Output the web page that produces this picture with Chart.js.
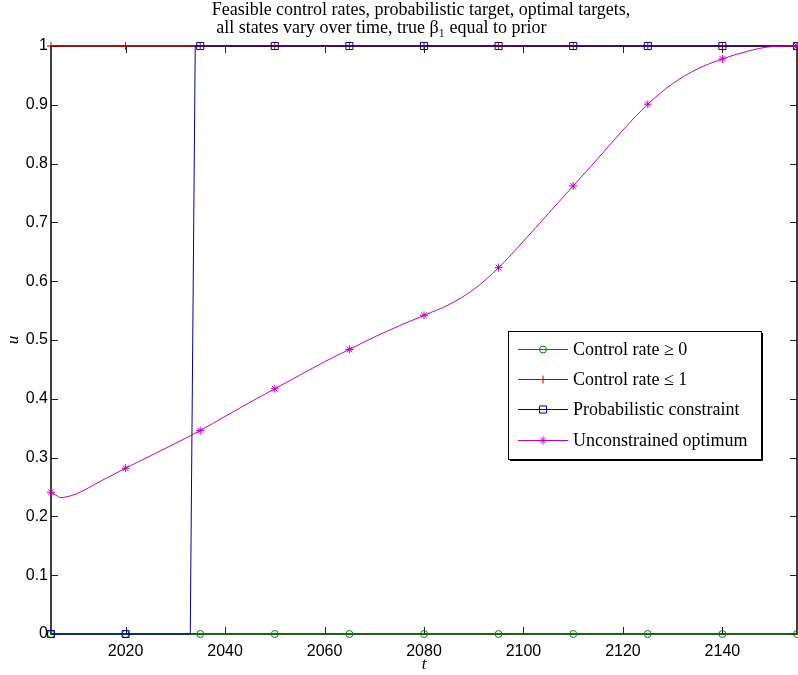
<!DOCTYPE html>
<html>
<head>
<meta charset="utf-8">
<script src="https://cdn.jsdelivr.net/npm/chart.js@4.4.1/dist/chart.umd.min.js"></script>
<style>
  html, body { margin: 0; padding: 0; background: #fff; }
</style>
</head>
<body>
<canvas id="grafico" width="798" height="675"></canvas>
<script>
// Testi e tacche
const titleLines = [
  'Feasible control rates, probabilistic target, optimal targets,',
  ' all states vary over time, true \u03B2\u2081 equal to prior'
];
const xTicks = [2020, 2040, 2060, 2080, 2100, 2120, 2140];
const yTicks = [0, 0.1, 0.2, 0.3, 0.4, 0.5, 0.6, 0.7, 0.8, 0.9, 1];
const markerYears = [2005, 2020, 2035, 2050, 2065, 2080, 2095, 2110, 2125, 2140, 2155];

// Serie: vincolo inferiore (0) e superiore (1)
const boundYears = [2005, 2020, 2035, 2050, 2065, 2080, 2095, 2110, 2125, 2140, 2155];
const lowerValues = [0, 0, 0, 0, 0, 0, 0, 0, 0, 0, 0];
const upperValues = [1, 1, 1, 1, 1, 1, 1, 1, 1, 1, 1];

// Serie: vincolo probabilistico
const probYears = [2005, 2020, 2033, 2034, 2035, 2050, 2065, 2080, 2095, 2110, 2125, 2140, 2155];
const probValues = [0, 0, 0, 1, 1, 1, 1, 1, 1, 1, 1, 1, 1];

// Serie: ottimo non vincolato
const optYears = [2005, 2006, 2007, 2008, 2010, 2015, 2020, 2025, 2030, 2035, 2040, 2045, 2050,
  2055, 2060, 2065, 2070, 2075, 2080, 2085, 2090, 2095, 2100, 2105, 2110, 2115, 2120, 2125,
  2130, 2135, 2140, 2145, 2150, 2155];
const optValues = [0.241, 0.236, 0.232, 0.233, 0.238, 0.260, 0.282, 0.303, 0.324, 0.346, 0.370, 0.394, 0.417,
  0.440, 0.463, 0.484, 0.505, 0.524, 0.542, 0.560, 0.586, 0.623, 0.668, 0.715, 0.762, 0.809, 0.857, 0.901,
  0.936, 0.961, 0.978, 0.991, 0.999, 1.0];

const GREEN = '#008000';
const RED = '#cc0000';
const BLUE = '#00009c';
const MAGENTA = '#bf00bf';

function toPoints(xs, ys) {
  return xs.map((x, i) => ({ x: x, y: ys[i] }));
}

function markerSize(r) {
  return ctx => (ctx.raw && markerYears.includes(ctx.raw.x)) ? r : 0;
}

// Disegna un marcatore (usato nella legenda)
function drawMarker(ctx, style, x, y, r, color) {
  ctx.save();
  ctx.strokeStyle = color;
  ctx.lineWidth = 1;
  ctx.beginPath();
  if (style === 'circle') {
    ctx.arc(x, y, r, 0, Math.PI * 2);
  } else if (style === 'rect') {
    const s = r / Math.SQRT2;
    ctx.rect(x - s, y - s, 2 * s, 2 * s);
  } else if (style === 'cross') {
    ctx.moveTo(x, y - r); ctx.lineTo(x, y + r);
    ctx.moveTo(x - r, y); ctx.lineTo(x + r, y);
  } else if (style === 'star') {
    ctx.moveTo(x, y - r); ctx.lineTo(x, y + r);
    ctx.moveTo(x - r, y); ctx.lineTo(x + r, y);
    const d = r * Math.SQRT1_2;
    ctx.moveTo(x - d, y - d); ctx.lineTo(x + d, y + d);
    ctx.moveTo(x - d, y + d); ctx.lineTo(x + d, y - d);
  }
  ctx.stroke();
  ctx.restore();
}

// Cornice con tacche verso l'interno (stile MATLAB)
const cornice = {
  id: 'cornice',
  beforeDatasetsDraw(chart) {
    const { ctx, chartArea: a, scales: { x, y } } = chart;
    ctx.save();
    ctx.strokeStyle = '#222';
    ctx.lineWidth = 1;
    ctx.beginPath();
    xTicks.forEach(v => {
      const px = Math.round(x.getPixelForValue(v)) + 0.5;
      ctx.moveTo(px, a.bottom); ctx.lineTo(px, a.bottom - 7);
      ctx.moveTo(px, a.top); ctx.lineTo(px, a.top + 7);
    });
    yTicks.forEach(v => {
      const py = Math.round(y.getPixelForValue(v)) + 0.5;
      ctx.moveTo(a.left, py); ctx.lineTo(a.left + 7, py);
      ctx.moveTo(a.right, py); ctx.lineTo(a.right - 7, py);
    });
    ctx.stroke();
    ctx.strokeStyle = '#000';
    ctx.lineWidth = 1.5;
    ctx.strokeRect(a.left, a.top, a.right - a.left, a.bottom - a.top);
    ctx.restore();
  }
};

// Titolo su due righe, allineato come nell'originale
const titolo = {
  id: 'titolo',
  afterDraw(chart) {
    const { ctx, chartArea: a } = chart;
    ctx.save();
    ctx.font = '18px "Liberation Serif", serif';
    ctx.fillStyle = '#000';
    ctx.textBaseline = 'alphabetic';
    const w = ctx.measureText(titleLines[0]).width;
    const x0 = (a.left + a.right) / 2 - w / 2 - 3;
    titleLines.forEach((t, i) => ctx.fillText(t, x0, a.top - 31 + i * 18));
    ctx.restore();
  }
};

// Legenda dentro l'area del grafico
const legenda = {
  id: 'legenda',
  afterDatasetsDraw(chart) {
    const { ctx, chartArea: a } = chart;
    const left = a.right - 289, top = a.top + 285, w = 253, h = 128;
    ctx.save();
    ctx.fillStyle = '#fff';
    ctx.fillRect(left, top, w, h);
    ctx.strokeStyle = '#000';
    ctx.lineWidth = 1;
    ctx.strokeRect(left + 0.5, top + 0.5, w, h);
    ctx.beginPath();
    ctx.moveTo(left + w + 1.5, top + 2); ctx.lineTo(left + w + 1.5, top + h + 1.5);
    ctx.lineTo(left + 2, top + h + 1.5);
    ctx.stroke();
    ctx.font = '18px "Liberation Serif", serif';
    ctx.textBaseline = 'middle';
    const rowsY = [18, 48, 78, 109];
    const legendDs = chart.data.datasets.slice().sort((p, q) => q.order - p.order);
    legendDs.forEach((ds, i) => {
      const cy = top + rowsY[i] + 0.5;
      ctx.strokeStyle = ds.borderColor;
      ctx.lineWidth = 1;
      ctx.beginPath();
      ctx.moveTo(left + 10, cy); ctx.lineTo(left + 60, cy);
      ctx.stroke();
      drawMarker(ctx, ds.pointStyle, left + 35, cy, ds.legendRadius, ds.borderColor);
      ctx.fillStyle = '#000';
      ctx.fillText(ds.label, left + 65, cy + 1);
    });
    ctx.restore();
  }
};

const baseDataset = {
  showLine: true,
  borderWidth: 1,
  pointBorderWidth: 1,
  pointBackgroundColor: 'rgba(0,0,0,0)',
  pointHoverRadius: 0,
  clip: false,
  tension: 0
};

new Chart(document.getElementById('grafico'), {
  type: 'line',
  data: {
    datasets: [
      Object.assign({}, baseDataset, {
        label: 'Control rate \u2265 0',
        data: toPoints(boundYears, lowerValues),
        borderColor: GREEN, pointBorderColor: GREEN,
        pointStyle: 'circle', pointRadius: markerSize(3.5), legendRadius: 3.5,
        order: 3
      }),
      Object.assign({}, baseDataset, {
        label: 'Control rate \u2264 1',
        data: toPoints(boundYears, upperValues),
        borderColor: RED, pointBorderColor: RED,
        pointStyle: 'cross', pointRadius: markerSize(4), legendRadius: 4,
        order: 2
      }),
      Object.assign({}, baseDataset, {
        label: 'Probabilistic constraint',
        data: toPoints(probYears, probValues),
        borderColor: BLUE, pointBorderColor: BLUE,
        pointStyle: 'rect', pointRadius: markerSize(5), legendRadius: 5,
        order: 1
      }),
      Object.assign({}, baseDataset, {
        label: 'Unconstrained optimum',
        data: toPoints(optYears, optValues),
        borderColor: MAGENTA, pointBorderColor: MAGENTA,
        pointStyle: 'star', pointRadius: markerSize(4), legendRadius: 4,
        cubicInterpolationMode: 'monotone',
        order: 0
      })
    ]
  },
  options: {
    responsive: false,
    animation: false,
    devicePixelRatio: 1,
    layout: { autoPadding: false, padding: { top: 46, right: 1, left: 0, bottom: 0 } },
    plugins: {
      legend: { display: false },
      title: { display: false },
      tooltip: { enabled: false }
    },
    scales: {
      x: {
        type: 'linear',
        min: 2005,
        max: 2155,
        afterBuildTicks: s => { s.ticks = xTicks.map(v => ({ value: v })); },
        afterFit: s => { s.height = 41; s.paddingLeft = 0; s.paddingRight = 0; },
        grid: { display: false, drawTicks: false },
        border: { display: false },
        ticks: {
          autoSkip: false, maxRotation: 0, padding: 8,
          color: '#000',
          font: { family: '"Liberation Sans", Arial, sans-serif', size: 16 },
          callback: v => String(v)
        },
        title: {
          display: true, text: 't', color: '#000',
          padding: { top: 0, bottom: 0 },
          font: { family: '"Liberation Serif", serif', size: 17, style: 'italic' }
        }
      },
      y: {
        min: 0,
        max: 1,
        afterBuildTicks: s => { s.ticks = yTicks.map(v => ({ value: v })); },
        afterFit: s => { s.width = 51; },
        grid: { display: false, drawTicks: false },
        border: { display: false },
        ticks: {
          padding: 3,
          color: '#000',
          font: { family: '"Liberation Sans", Arial, sans-serif', size: 16 },
          callback: v => String(v)
        },
        title: {
          display: true, text: 'u', color: '#000',
          padding: { top: 3, bottom: 0 },
          font: { family: '"Liberation Serif", serif', size: 17, style: 'italic' }
        }
      }
    }
  },
  plugins: [cornice, titolo, legenda]
});
</script>
</body>
</html>
